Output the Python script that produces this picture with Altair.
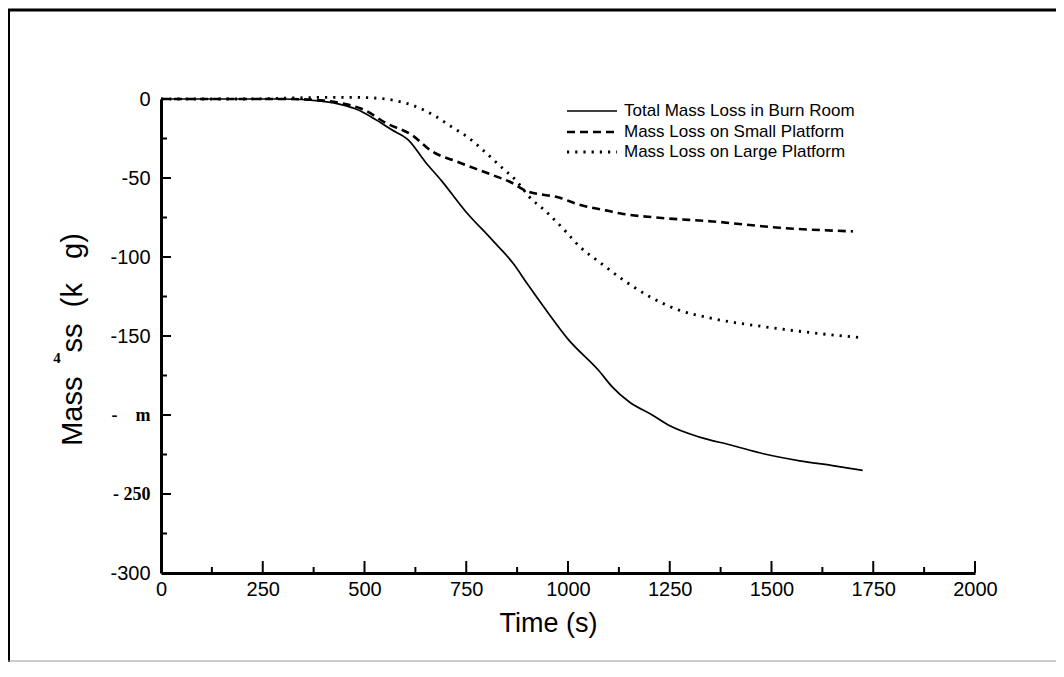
import altair as alt
import pandas as pd

# ---- data ----
series = ["Total Mass Loss in Burn Room", "Mass Loss on Small Platform", "Mass Loss on Large Platform"]

total_t = [0, 100, 200, 300, 394, 453, 485, 527, 567, 608, 650, 690, 748, 813, 867, 900, 950, 1000,
           1076, 1108, 1150, 1207, 1249, 1323, 1400, 1480, 1569, 1650, 1724]
total_v = [0, 0, 0, 0, -1.3, -4.2, -7, -13, -19.5, -26, -40, -52, -71, -89, -104.6, -117, -135, -152,
           -172, -182, -191.6, -200, -206.7, -214, -219, -224.5, -229, -232, -235]

small_t = [0, 200, 300, 400, 450, 500, 551, 616, 665, 731, 813, 862, 896, 978, 1027, 1093, 1130,
           1216, 1356, 1520, 1700]
small_v = [0, 0, 0, -1, -3, -7, -15, -22.7, -33, -40, -48, -53, -58, -62.4, -66.8, -70.5, -72.5,
           -75, -77.5, -81.5, -83.8]

large_t = [0, 200, 300, 400, 485, 530, 567, 616, 675, 714, 756, 798, 838, 874, 904, 945, 995, 1027,
           1076, 1133, 1200, 1266, 1356, 1478, 1601, 1717]
large_v = [0, 0, 0.5, 1, 1, 0.5, -0.6, -3.8, -11, -17.6, -24.6, -34, -43.5, -52, -61.7, -71, -84, -93,
           -103, -114, -125, -133, -139, -144, -148, -151]

x_ticks = [0, 250, 500, 750, 1000, 1250, 1500, 1750, 2000]
x_minor = [125, 375, 625, 875, 1125, 1375, 1625, 1875]
y_ticks = [0, -50, -100, -150, -200, -250, -300]
y_minor = [-25, -75, -125, -175, -225, -275]

rows = []
for name, ts, vs in zip(series, [total_t, small_t, large_t], [total_v, small_v, large_v]):
    for t, v in zip(ts, vs):
        rows.append({"series": name, "t": t, "v": v})
df = pd.DataFrame(rows)

W, H = 814, 474
FONT = "Liberation Sans"
NB = "\u00a0"

xscale = alt.Scale(domain=[0, 2000], nice=False, zero=False)
yscale = alt.Scale(domain=[-300, 0], nice=False, zero=False)

serif_test = "datum.value <= -200 && datum.value >= -250"

x_axis = alt.Axis(
    values=x_ticks, format="d", ticks=False, grid=False, labelFlush=False,
    domainWidth=3, domainColor="black",
    labelFont=FONT, labelFontSize=20, labelColor="black", labelPadding=6,
    title="Time (s)", titleFont=FONT, titleFontSize=27, titleFontWeight="normal",
    titleColor="black", titleX=387, titleY=58, titleBaseline="alphabetic", titleAlign="center",
)
y_title = "Mass" + NB * 3 + "ss" + NB * 2 + "(k" + NB * 3 + "g)"
y_axis = alt.Axis(
    values=y_ticks, ticks=False, grid=False, labelFlush=False,
    domainWidth=3, domainColor="black",
    labelExpr=("datum.value == -200 ? '-" + NB * 4 + "m' : (datum.value == -250 ? '-" + NB
               + "250' : (datum.value == 0 ? '0' : '-' + abs(datum.value)))"),
    labelFont={"condition": {"test": serif_test, "value": "Liberation Serif"}, "value": FONT},
    labelFontWeight={"condition": {"test": serif_test, "value": "bold"}, "value": "normal"},
    labelFontSize={"condition": {"test": serif_test, "value": 18}, "value": 20},
    labelColor="black", labelPadding=11,
    title=y_title, titleFont=FONT, titleFontSize=29, titleFontWeight="normal",
    titleColor="black", titleAngle=270, titleX=-80, titleY=240, titleBaseline="alphabetic",
    titleAlign="center",
)

X = lambda: alt.X("t:Q", scale=xscale, axis=x_axis)
Y = lambda: alt.Y("v:Q", scale=yscale, axis=y_axis)

styles = {
    series[0]: dict(strokeWidth=1.7),
    series[1]: dict(strokeWidth=2.6, strokeDash=[8, 5]),
    series[2]: dict(strokeWidth=2.8, strokeDash=[2.2, 6]),
}

layers = []
for i, name in enumerate(series):
    line = alt.Chart(df).transform_filter(alt.datum.series == name).mark_line(
        color="black", interpolate="monotone", **styles[name]
    ).encode(x=X(), y=Y())
    layers.append(line)

# inward ticks
ymaj = pd.DataFrame({"v": [v for v in y_ticks if v not in (0, -300)]})
ymin = pd.DataFrame({"v": y_minor})
xmaj = pd.DataFrame({"t": [t for t in x_ticks if t != 0]})
xmin = pd.DataFrame({"t": x_minor})

layers.append(alt.Chart(ymaj).mark_rule(color="black", strokeWidth=2).encode(
    x=alt.value(0), x2=alt.value(10), y=Y()))
layers.append(alt.Chart(ymin).mark_rule(color="black", strokeWidth=2).encode(
    x=alt.value(0), x2=alt.value(6), y=Y()))
layers.append(alt.Chart(xmaj).mark_rule(color="black", strokeWidth=2).encode(
    y=alt.value(H), y2=alt.value(H - 12), x=X()))
layers.append(alt.Chart(xmin).mark_rule(color="black", strokeWidth=2).encode(
    y=alt.value(H), y2=alt.value(H - 6), x=X()))

# legend (drawn manually)
one = pd.DataFrame({"a": [0]})
leg_y = [12, 33, 53]
for i, name in enumerate(series):
    st = dict(styles[name])
    layers.append(alt.Chart(one).mark_rule(color="black", **st).encode(
        x=alt.value(406), x2=alt.value(456), y=alt.value(leg_y[i])))
    layers.append(alt.Chart(one).mark_text(
        text=name, font=FONT, fontSize=17, color="black", align="left", baseline="middle"
    ).encode(x=alt.value(463), y=alt.value(leg_y[i])))

# stray "4" artifact near the axis title
layers.append(alt.Chart(one).mark_text(
    text="4", font="Liberation Serif", fontWeight="bold", fontSize=15, color="black",
    align="center", baseline="middle").encode(x=alt.value(-104), y=alt.value(259)))

# outer frame
layers.append(alt.Chart(one).mark_rule(color="black", strokeWidth=3).encode(
    x=alt.value(-153), x2=alt.value(W + 81), y=alt.value(-89)))
layers.append(alt.Chart(one).mark_rule(color="black", strokeWidth=2).encode(
    x=alt.value(-152), y=alt.value(-90), y2=alt.value(H + 89)))
layers.append(alt.Chart(one).mark_rule(color="#999999", strokeWidth=1).encode(
    x=alt.value(-153), x2=alt.value(W + 81), y=alt.value(H + 88)))

chart = alt.layer(*layers).properties(
    width=W, height=H,
    padding={"left": 153, "top": 91, "right": 81, "bottom": 90},
    autosize=alt.AutoSizeParams(type="none"),
    background="white",
).configure_view(stroke=None)

chart.save("out.html", embed_options={"renderer": "svg", "actions": False})
